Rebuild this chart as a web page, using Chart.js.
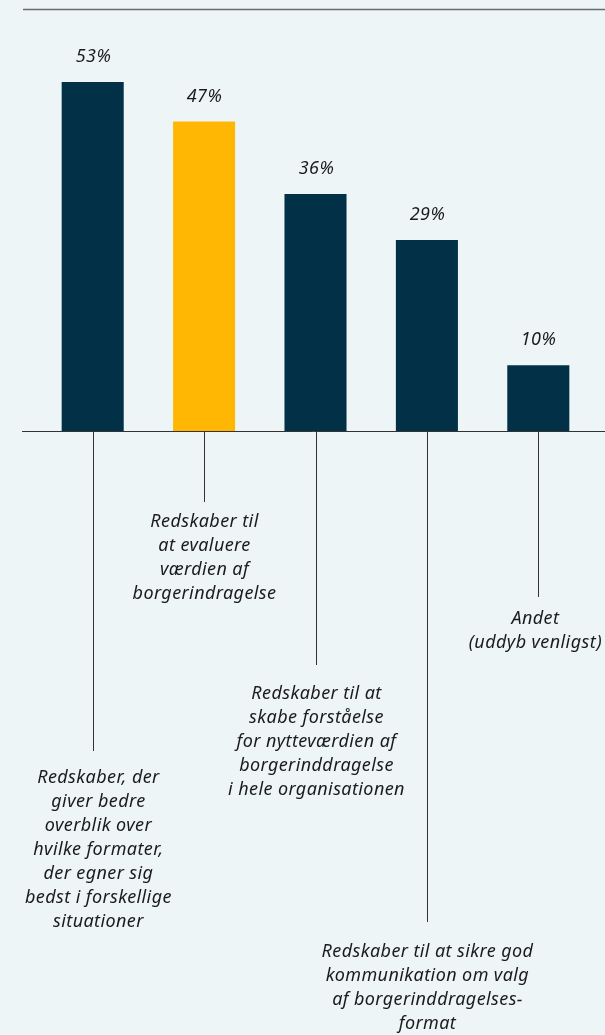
<!DOCTYPE html>
<html>
<head>
<meta charset="utf-8">
<script src="https://cdn.jsdelivr.net/npm/chart.js@4.4.1/dist/chart.umd.min.js"></script>
<style>
  html, body { margin: 0; padding: 0; background: #eef5f7; }
  canvas { display: block; }
</style>
</head>
<body>
<canvas id="toolsChart" width="605" height="1035"></canvas>
<script>
// data
const categories = [
  ["Redskaber, der", "giver bedre", "overblik over", "hvilke formater,", "der egner sig", "bedst i forskellige", "situationer"],
  ["Redskaber til", "at evaluere", "værdien af", "borgerindragelse"],
  ["Redskaber til at", "skabe forståelse", "for nytteværdien af", "borgerinddragelse", "i hele organisationen"],
  ["Redskaber til at sikre god", "kommunikation om valg", "af borgerinddragelses-", "format"],
  ["Andet", "(uddyb venligst)"]
]
const values = [53, 47, 36, 29, 10]
const valueLabels = ["53%", "47%", "36%", "29%", "10%"]

// leader line lengths and text offsets below the axis (px)
const leaderLen = [320, 71, 234, 491, 166]
const textOffset = [347, 91, 263, 521, 188]

const navy = "#023047"
const yellow = "#ffb703"
const font = "italic 18px 'Noto Sans'"

const annotations = {
  id: "annotations",
  afterDatasetsDraw(chart) {
    const c = chart.ctx
    const xs = chart.scales.x
    const base = chart.scales.y.getPixelForValue(0)
    const meta = chart.getDatasetMeta(0)
    c.save()

    // top rule
    c.strokeStyle = "#6b6b6b"
    c.lineWidth = 1.5
    c.beginPath()
    c.moveTo(23, 9.5)
    c.lineTo(605, 9.5)
    c.stroke()

    // baseline
    c.strokeStyle = "#333"
    c.lineWidth = 1
    c.beginPath()
    c.moveTo(22, Math.round(base) + 0.5)
    c.lineTo(605, Math.round(base) + 0.5)
    c.stroke()

    c.fillStyle = "#1b1b1b"
    c.font = font
    c.letterSpacing = "0.4px"
    c.textAlign = "center"
    c.textBaseline = "middle"

    categories.forEach((lines, i) => {
      const x = Math.round(xs.getPixelForValue(i)) + 0.5
      // leader line
      c.beginPath()
      c.moveTo(x, base)
      c.lineTo(x, base + leaderLen[i])
      c.stroke()

      // value label
      const bar = meta.data[i]
      c.fillText(valueLabels[i], x, bar.y - 25)

      // category label, kept inside the canvas
      let w = 0
      lines.forEach(l => { w = Math.max(w, c.measureText(l).width) })
      let cx = x
      if (cx - w / 2 < 25) cx = 25 + w / 2
      if (cx + w / 2 > 602) cx = 602 - w / 2
      lines.forEach((l, j) => {
        c.fillText(l, cx, base + textOffset[i] + j * 24)
      })
    })
    c.restore()
  }
}

new Chart(document.getElementById("toolsChart"), {
  type: "bar",
  data: {
    labels: categories.map(l => l.join(" ")),
    datasets: [{
      data: values,
      backgroundColor: values.map((v, i) => (i === 1 ? yellow : navy)),
      borderWidth: 0,
      barPercentage: 0.557,
      categoryPercentage: 1
    }]
  },
  options: {
    responsive: false,
    devicePixelRatio: 1,
    animation: false,
    layout: { padding: { top: 36, bottom: 604, left: 37, right: 11 } },
    plugins: { legend: { display: false }, tooltip: { enabled: false } },
    scales: {
      x: { display: false },
      y: { display: false, min: 0, max: 60 }
    }
  },
  plugins: [annotations]
})
</script>
</body>
</html>
